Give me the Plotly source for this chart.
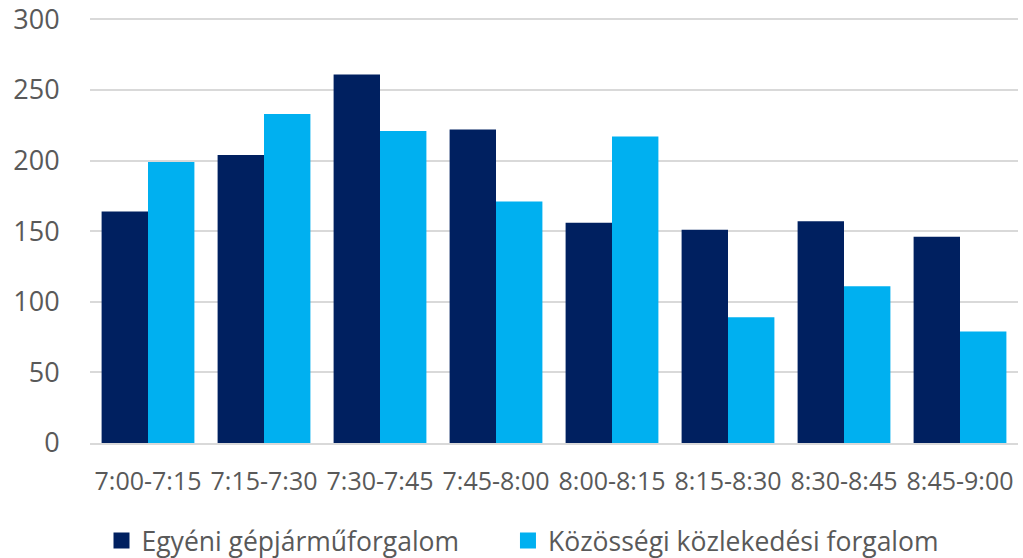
import plotly.graph_objects as go

categories = ["7:00-7:15", "7:15-7:30", "7:30-7:45", "7:45-8:00",
              "8:00-8:15", "8:15-8:30", "8:30-8:45", "8:45-9:00"]
egyeni = [164, 204, 261, 222, 156, 151, 157, 146]
kozossegi = [199, 233, 221, 171, 217, 89, 111, 79]
series_names = ["Egyéni gépjárműforgalom", "Közösségi közlekedési forgalom"]
series_colors = ["#002060", "#00B0F0"]
y_ticks = [0, 50, 100, 150, 200, 250, 300]

FONT = "Open Sans"
TXT = "#595959"

fig = go.Figure()
for vals, name, col in zip([egyeni, kozossegi], series_names, series_colors):
    fig.add_trace(go.Bar(x=categories, y=vals, name=name, showlegend=False,
                         marker=dict(color=col, line=dict(width=0))))

# legend-only entries with larger square symbols
for name, col, leg in zip(series_names, series_colors, ["legend", "legend2"]):
    fig.add_trace(go.Scatter(x=[None], y=[None], mode="markers", name=name,
                             legend=leg, hoverinfo="skip",
                             marker=dict(symbol="square", size=17, color=col,
                                         line=dict(width=0))))

legend_common = dict(orientation="h", xanchor="left", y=-0.23, yanchor="middle",
                     font=dict(size=26.5, color=TXT), itemwidth=30,
                     bgcolor="rgba(0,0,0,0)")

fig.update_layout(
    width=1023, height=558,
    margin=dict(l=90, r=5, t=18, b=115, autoexpand=False),
    paper_bgcolor="white", plot_bgcolor="white",
    barmode="group", bargap=0.2, bargroupgap=0,
    font=dict(family=FONT, color=TXT),
    legend=dict(x=0.0124, **legend_common),
    legend2=dict(x=0.4504, **legend_common),
    showlegend=True,
)
fig.update_xaxes(showgrid=False, showline=True, linecolor="#d9d9d9", linewidth=1.5,
                 tickfont=dict(size=25, color=TXT), ticks="outside", ticklen=15,
                 tickcolor="rgba(0,0,0,0)", automargin=False, fixedrange=True)
fig.update_yaxes(range=[0, 301], tickvals=y_ticks, showgrid=True, gridcolor="#d9d9d9",
                 gridwidth=1.5, zeroline=False, showline=False,
                 tickfont=dict(size=27, color=TXT), ticks="outside", ticklen=24,
                 tickcolor="rgba(0,0,0,0)", automargin=False, fixedrange=True,
                 ticklabeloverflow="allow")

fig.write_html("out.html", config={"displayModeBar": False},
               post_script="document.body.style.margin='0';")
